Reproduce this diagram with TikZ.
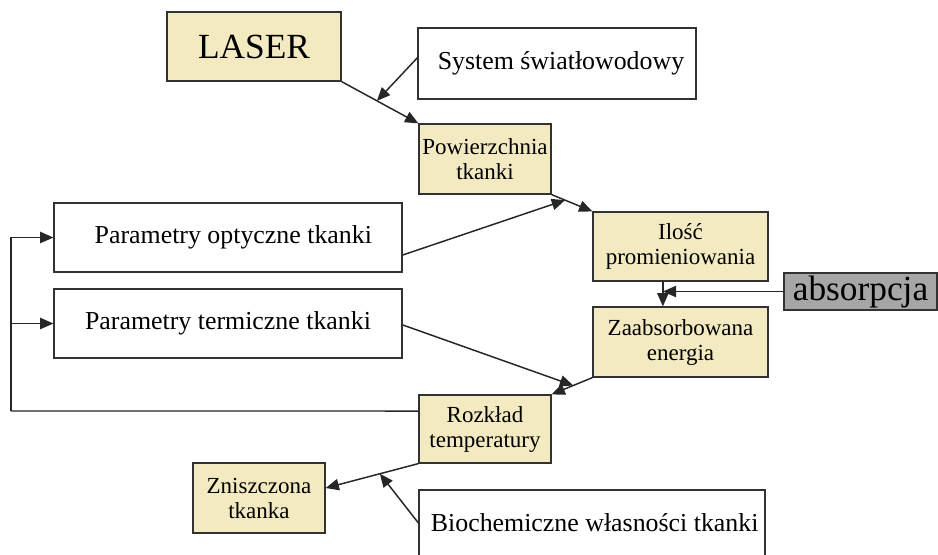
\documentclass[tikz,border=0pt]{standalone}
\usepackage{fontspec}
\setmainfont{Liberation Serif}
\usetikzlibrary{arrows.meta,calc}
\definecolor{boxtan}{RGB}{243,234,193}
\definecolor{absgray}{RGB}{166,166,166}
\definecolor{edge}{RGB}{50,50,50}
\tikzset{
  sz/.style 2 args={minimum width=#1*0.75pt, minimum height=#2*0.75pt},
  tanbox/.style={draw=edge, fill=boxtan, line width=0.9pt, inner sep=0pt, align=center,
    font=\fontsize{17.25}{18.75}\selectfont},
  wbox/.style={draw=edge, fill=white, line width=0.9pt, inner sep=0pt, align=center,
    font=\fontsize{19.4}{22}\selectfont},
  bigtxt/.style={font=\fontsize{26.5}{30}\selectfont},
  conn/.style={line width=1.1pt, draw=black!85},
  arr/.style={conn, -{Triangle[length=10pt,width=8.5pt]}},
}
\begin{document}
\begin{tikzpicture}[x=0.75pt,y=-0.75pt]
\useasboundingbox (0,0) rectangle (938,554);
\fill[white] (0,0) rectangle (938,554);
\clip (0,0) rectangle (938,554);

% nodes
\node[tanbox, sz={174}{69}, bigtxt] (laser) at (254,46.5) {LASER};
\node[wbox, sz={278}{71}] (sys) at (557,63.5) {\hspace*{6pt}System światłowodowy};
\node[tanbox, sz={132}{70}] (pow) at (485,159) {Powierzchnia\\tkanki};
\node[wbox, sz={348}{69}] (opt) at (228,237.5) {\hspace*{8pt}Parametry optyczne tkanki};
\node[tanbox, sz={175}{69}] (ilo) at (680.5,246.5) {Ilość\\promieniowania};
\node[draw=edge, fill=absgray, line width=0.9pt, inner sep=0pt, sz={153}{37}, bigtxt] (abs) at (860.5,291.5) {absorpcja};
\node[wbox, sz={348}{69}] (ter) at (228,323.5) {Parametry termiczne tkanki};
\node[tanbox, sz={175}{70}] (zaa) at (680.5,342) {Zaabsorbowana\\energia};
\node[tanbox, sz={132}{68}] (roz) at (485,429) {Rozkład\\temperatury};
\node[tanbox, sz={132}{70}] (zni) at (259,498) {Zniszczona\\tkanka};
\node[wbox, sz={346}{66}] (bio) at (592,523) {\hspace*{4pt}Biochemiczne własności tkanki};

% helper coordinates
\coordinate (m1) at ($(laser.south east)!0.46!(pow.north west)$);
\coordinate (m2) at ($(pow.south east)!0.33!(ilo.north west)$);
\coordinate (ilos) at ($(ilo.south west)!0.4!(ilo.south east)$);
\coordinate (zaan) at ($(zaa.north west)!0.4!(zaa.north east)$);
\coordinate (m4) at ($(zaa.south west)!0.47!(roz.north east)$);
\coordinate (zniE) at ($(zni.north east)!0.36!(zni.south east)$);
\coordinate (m5) at ($(roz.south west)!0.415!(zniE)$);
\coordinate (rozW) at ($(roz.north west)!0.24!(roz.south west)$);
\coordinate (fbl) at (11,411);

% connectors
\draw[arr] (laser.south east) -- (pow.north west);
\draw[arr] ($(sys.north west)!0.42!(sys.south west)$) -- (m1);
\draw[arr] (pow.south east) -- (ilo.north west);
\draw[arr] ($(opt.north east)!0.75!(opt.south east)$) -- (m2);
\draw[arr] (ilos) -- (zaan);
\draw[arr] (abs.west) -- (abs.west -| ilos);
\draw[arr] ($(ter.north east)!0.52!(ter.south east)$) -- (m4);
\draw[arr] (zaa.south west) -- (roz.north east);
\draw[conn] (rozW) -- (fbl);
\draw[arr] (fbl) |- (opt.west);
\draw[arr] (fbl |- ter.west) -- (ter.west);
\draw[arr] (roz.south west) -- (zniE);
\draw[arr] (bio.west) -- (m5);
\end{tikzpicture}
\end{document}
